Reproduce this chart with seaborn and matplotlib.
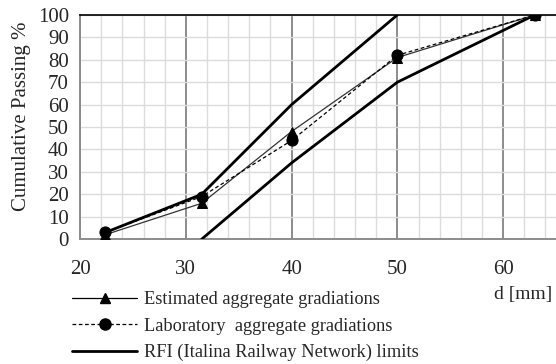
import pandas as pd
import seaborn as sns
import matplotlib.pyplot as plt
from matplotlib.lines import Line2D
from matplotlib.ticker import MultipleLocator

# sieve sizes (mm) and cumulative passing (%)
sieve = [22.4, 31.5, 40, 50, 63]
estimated = [2, 16, 48, 81, 100]
laboratory = [3, 19, 44, 82, 100]

# RFI limits
upper_d = [22.4, 31.5, 40, 50]
upper_p = [3, 20, 60, 100]
lower_d = [31.5, 40, 50, 63]
lower_p = [0, 34, 70, 100]

labels = ["Estimated aggregate gradiations",
          "Laboratory  aggregate gradiations",
          "RFI (Italina Railway Network) limits"]

sns.set_style("white")
plt.rcParams['font.family'] = ['Liberation Serif', 'DejaVu Serif']
plt.rcParams['font.size'] = 14

df_est = pd.DataFrame({"d": sieve, "p": estimated})
df_lab = pd.DataFrame({"d": sieve, "p": laboratory})
df_up = pd.DataFrame({"d": upper_d, "p": upper_p})
df_lo = pd.DataFrame({"d": lower_d, "p": lower_p})

fig = plt.figure(figsize=(5.56, 3.64), dpi=100)
ax = fig.add_axes([0.144, 0.343, 0.856, 0.616])

sns.lineplot(data=df_up, x="d", y="p", color="black", linewidth=2, ax=ax, zorder=3)
sns.lineplot(data=df_lo, x="d", y="p", color="black", linewidth=2, ax=ax, zorder=3)
sns.lineplot(data=df_est, x="d", y="p", color="#333333", linewidth=0.9, marker="^",
             markersize=7, markeredgecolor="black", markerfacecolor="black", ax=ax, zorder=4)
sns.lineplot(data=df_lab, x="d", y="p", color="black", linewidth=0.9, linestyle=(0, (3, 2)),
             marker="o", markersize=8, markeredgecolor="black", markerfacecolor="black",
             ax=ax, zorder=4)

ax.set_xlim(20, 65)
ax.set_ylim(0, 100)
ax.xaxis.set_major_locator(MultipleLocator(10))
ax.xaxis.set_minor_locator(MultipleLocator(2))
ax.yaxis.set_major_locator(MultipleLocator(10))
ax.grid(which="major", axis="x", color="#8c8c8c", linewidth=1.4, zorder=0)
ax.grid(which="minor", axis="x", color="#dcdcdc", linewidth=1.0, zorder=0)
ax.grid(which="major", axis="y", color="#dcdcdc", linewidth=1.0, zorder=0)
ax.set_axisbelow(True)

ax.spines["right"].set_visible(False)
ax.spines["top"].set_color("black")
ax.spines["top"].set_linewidth(1.2)
for s in ["left", "bottom"]:
    ax.spines[s].set_color("#8c8c8c")
    ax.spines[s].set_linewidth(1.4)
ax.tick_params(axis="x", which="major", direction="inout", length=8, width=1.4,
               color="#8c8c8c", pad=11, labelsize=15)
ax.tick_params(axis="x", which="minor", length=0)
ax.tick_params(axis="y", direction="out", length=5, width=1.4, color="#8c8c8c",
               pad=3, labelsize=15)

ax.set_xlabel("")
ax.set_ylabel("Cumulative Passing %", fontsize=15, va="center")
ax.yaxis.set_label_coords(-0.122, 0.55)
fig.text(0.993, 0.19, "d [mm]", ha="right", va="center", fontsize=14)

handles = [
    Line2D([], [], color="black", linewidth=0.9, marker="^", markersize=7),
    Line2D([], [], color="black", linewidth=0.9, linestyle=(0, (3, 2)), marker="o", markersize=8),
    Line2D([], [], color="black", linewidth=2),
]
fig.legend(handles, labels, loc="upper left", bbox_to_anchor=(0.1295, 0.200),
           frameon=False, handlelength=3.55, handletextpad=0.38, labelspacing=0.51,
           fontsize=13.2, borderaxespad=0, borderpad=0)

fig.savefig("out.png", dpi=100)
